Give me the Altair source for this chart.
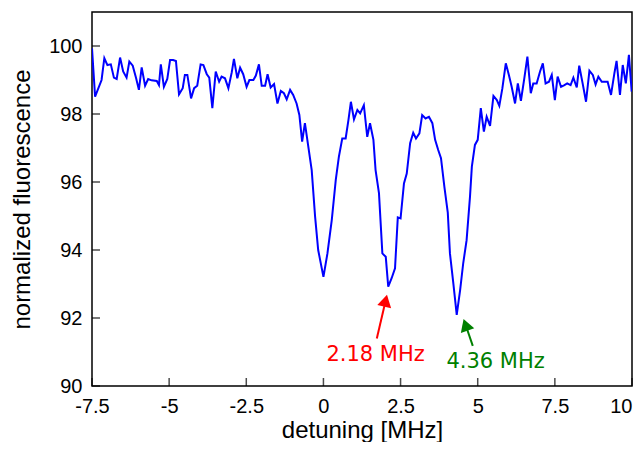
import altair as alt
import pandas as pd

detuning = [
    -7.50, -7.40, -7.19, -7.10, -7.00, -6.89, -6.79, -6.70, -6.59, -6.49,
    -6.38, -6.29, -6.18, -6.07, -5.98, -5.89, -5.78, -5.68, -5.57, -5.40,
    -5.33, -5.27, -5.17, -5.06, -4.97, -4.87, -4.78, -4.68, -4.56, -4.49,
    -4.41, -4.29, -4.19, -4.09, -3.98, -3.89, -3.78, -3.70, -3.60, -3.49,
    -3.38, -3.30, -3.19, -3.08, -2.97, -2.90, -2.79, -2.70, -2.60, -2.49,
    -2.40, -2.27, -2.19, -2.09, -2.00, -1.89, -1.81, -1.71, -1.60, -1.49,
    -1.38, -1.28, -1.19, -1.08, -0.98, -0.87, -0.78, -0.69, -0.60, -0.49,
    -0.38, -0.27, -0.17, 0.00, 0.13, 0.27, 0.40, 0.50, 0.61, 0.72,
    0.81, 0.89, 0.99, 1.10, 1.19, 1.31, 1.42, 1.51, 1.62, 1.69,
    1.80, 1.91, 2.02, 2.10, 2.21, 2.32, 2.41, 2.50, 2.61, 2.70,
    2.81, 2.91, 3.00, 3.11, 3.20, 3.31, 3.42, 3.53, 3.62, 3.72,
    3.81, 3.92, 4.03, 4.10, 4.21, 4.32, 4.43, 4.53, 4.64, 4.75,
    4.81, 4.91, 5.00, 5.10, 5.20, 5.29, 5.40, 5.51, 5.62, 5.70,
    5.80, 5.91, 6.01, 6.10, 6.21, 6.30, 6.40, 6.51, 6.61, 6.72,
    6.80, 6.91, 7.02, 7.11, 7.20, 7.31, 7.40, 7.50, 7.59, 7.70,
    7.81, 7.90, 8.01, 8.10, 8.21, 8.29, 8.40, 8.51, 8.62, 8.73,
    8.82, 8.91, 9.02, 9.12, 9.21, 9.32, 9.43, 9.50, 9.61, 9.70,
    9.80, 9.90, 9.99,
]

fluorescence = [
    99.93, 98.51, 99.00, 99.64, 99.44, 99.46, 99.07, 99.03, 99.66, 99.25,
    99.07, 99.54, 99.42, 99.05, 98.71, 99.37, 98.83, 99.03, 98.99, 98.97,
    98.85, 99.46, 98.80, 99.03, 99.59, 99.59, 99.56, 98.58, 98.76, 99.15,
    99.15, 98.46, 98.76, 98.83, 99.46, 99.44, 99.17, 99.07, 98.17, 99.25,
    98.95, 99.10, 99.05, 98.76, 99.23, 99.62, 99.05, 99.36, 99.17, 98.80,
    99.00, 99.00, 99.13, 99.46, 98.83, 98.83, 99.17, 98.78, 98.88, 98.31,
    98.68, 98.61, 98.43, 98.71, 98.56, 98.31, 97.97, 97.19, 97.73, 97.04,
    96.35, 94.98, 94.00, 93.21, 93.90, 94.88, 96.06, 96.74, 97.28, 97.28,
    97.82, 98.36, 97.84, 98.12, 98.02, 98.26, 97.33, 97.73, 97.24, 96.35,
    95.67, 93.90, 93.80, 92.92, 93.17, 93.46, 94.96, 94.93, 95.96, 96.25,
    97.14, 97.45, 97.28, 97.43, 97.97, 97.87, 97.92, 97.73, 97.24, 96.94,
    96.70, 95.86, 95.10, 93.90, 93.02, 92.09, 92.82, 93.61, 94.29, 95.57,
    96.45, 97.09, 97.24, 98.17, 97.48, 97.92, 97.65, 98.53, 98.41, 98.24,
    98.76, 99.49, 99.15, 98.80, 98.31, 98.90, 98.39, 99.05, 99.69, 98.61,
    98.90, 98.90, 99.25, 99.49, 98.90, 98.95, 99.15, 98.41, 99.10, 98.80,
    98.85, 98.90, 98.85, 99.07, 98.78, 99.42, 98.90, 98.36, 99.27, 99.15,
    98.87, 99.10, 98.95, 98.95, 98.95, 98.56, 99.20, 99.56, 98.56, 99.44,
    98.90, 99.74, 98.66,
]

x_ticks = [-7.5, -5, -2.5, 0, 2.5, 5, 7.5, 10]
y_ticks = [90, 92, 94, 96, 98, 100]

ann_labels = ["2.18 MHz", "4.36 MHz"]
ann_colors = ["#ff0000", "#008000"]
ann_text_x = [1.69, 5.58]
ann_text_y = [90.91, 90.71]
arrow_tail_x = [1.73, 4.84]
arrow_tail_y = [91.40, 91.18]
arrow_head_x = [2.015, 4.606]
arrow_head_y = [92.51, 91.80]
arrow_angle = [13, 341]

X_DOMAIN = [-7.5, 10]
Y_DOMAIN = [90, 101]
X_TITLE = "detuning [MHz]"
Y_TITLE = "normalized fluorescence"

df = pd.DataFrame({"detuning": detuning, "fluorescence": fluorescence})
ann = pd.DataFrame({
    "label": ann_labels, "color": ann_colors,
    "tx": ann_text_x, "ty": ann_text_y,
    "x0": arrow_tail_x, "y0": arrow_tail_y,
    "x1": arrow_head_x, "y1": arrow_head_y,
    "angle": arrow_angle,
})
xt = pd.DataFrame({"v": x_ticks})
yt = pd.DataFrame({"v": y_ticks})


def xs():
    return alt.Scale(domain=X_DOMAIN, nice=False, zero=False)


def ys():
    return alt.Scale(domain=Y_DOMAIN, nice=False, zero=False)


def xax():
    return alt.Axis(
        values=x_ticks, title=X_TITLE, labelExpr="datum.value + ''",
        labelAlign={"condition": {"test": "datum.value >= 10", "value": "right"},
                    "value": "center"},
    )


def yax():
    return alt.Axis(values=y_ticks, title=Y_TITLE, labelExpr="datum.value + ''")


def X(field):
    return alt.X(field, scale=xs(), axis=xax(), title=X_TITLE)


def Y(field):
    return alt.Y(field, scale=ys(), axis=yax(), title=Y_TITLE)


line = alt.Chart(df).mark_line(color="#0000ff", strokeWidth=2, clip=True).encode(
    x=X("detuning:Q"),
    y=Y("fluorescence:Q"),
    order="detuning:Q",
)

shafts = alt.Chart(ann).mark_rule(strokeWidth=2).encode(
    x=X("x0:Q"), y=Y("y0:Q"),
    x2="x1:Q", y2="y1:Q",
    color=alt.Color("color:N", scale=None),
)

heads = alt.Chart(ann).mark_point(shape="triangle-up", filled=True, size=200, opacity=1).encode(
    x=X("x1:Q"), y=Y("y1:Q"),
    angle=alt.Angle("angle:Q", scale=None),
    color=alt.Color("color:N", scale=None),
)

texts = alt.Chart(ann).mark_text(font="DejaVu Sans", fontSize=21).encode(
    x=X("tx:Q"), y=Y("ty:Q"),
    text="label:N",
    color=alt.Color("color:N", scale=None),
)

bottom_ticks = alt.Chart(xt).mark_tick(orient="vertical", size=8, thickness=1.5,
                                       color="black", yOffset=-4).encode(
    x=X("v:Q"),
    y=alt.datum(Y_DOMAIN[0], scale=ys(), axis=yax(), title=Y_TITLE),
)

left_ticks = alt.Chart(yt).mark_tick(orient="horizontal", size=8, thickness=1.5,
                                     color="black", xOffset=4).encode(
    y=Y("v:Q"),
    x=alt.datum(X_DOMAIN[0], scale=xs(), axis=xax(), title=X_TITLE),
)

chart = alt.layer(line, shafts, heads, texts, bottom_ticks, left_ticks).properties(
    width=540, height=374,
    autosize=alt.AutoSizeParams(type="none"),
    padding={"left": 84, "top": 4, "right": 1, "bottom": 56},
).configure_view(
    stroke="black", strokeWidth=1.5,
).configure_axis(
    grid=False, ticks=False, domain=False,
    labelFont="Liberation Sans", labelFontSize=20, labelColor="black",
    titleFont="Liberation Sans", titleFontSize=24, titleFontWeight="normal",
    titleColor="black", labelOverlap=False, labelFlush=False,
).configure_axisX(
    labelPadding=10, titlePadding=2,
).configure_axisY(
    labelPadding=10, titlePadding=14,
)

chart.save("out.html", embed_options={"renderer": "svg", "actions": False})
